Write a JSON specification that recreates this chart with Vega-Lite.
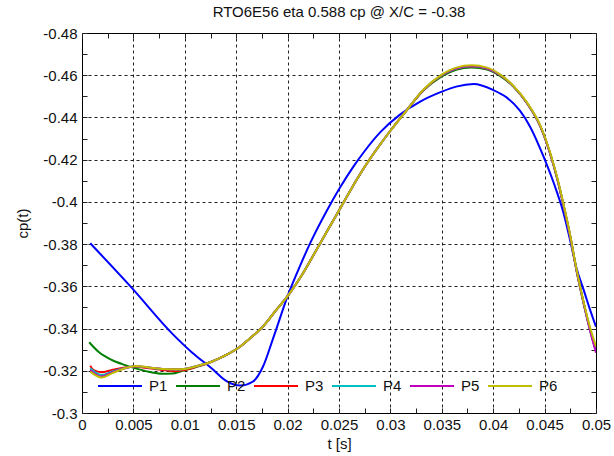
{
  "$schema": "https://vega.github.io/schema/vega-lite/v6.json",
  "width": 514,
  "height": 380,
  "autosize": "none",
  "padding": {"left": 82, "top": 33, "right": 18, "bottom": 43},
  "background": "white",
  "title": {"text": "RTO6E56 eta 0.588 cp @ X/C = -0.38", "fontSize": 15, "font": "Liberation Sans", "fontWeight": "normal", "color": "#111", "offset": 6, "anchor": "middle"},
  "config": {"view": {"stroke": "black", "strokeWidth": 1}, "font": "Liberation Sans"},
  "data": {"values": [
    {"series":"P1","t":0.0008,"cp":-0.3804},{"series":"P1","t":0.0048,"cp":-0.3595},{"series":"P1","t":0.0088,"cp":-0.3375},{"series":"P1","t":0.0107,"cp":-0.3287},{"series":"P1","t":0.0126,"cp":-0.3212},{"series":"P1","t":0.0141,"cp":-0.315},{"series":"P1","t":0.0154,"cp":-0.313},{"series":"P1","t":0.0166,"cp":-0.3148},{"series":"P1","t":0.0176,"cp":-0.3219},{"series":"P1","t":0.0186,"cp":-0.3355},{"series":"P1","t":0.0201,"cp":-0.3567},{"series":"P1","t":0.0212,"cp":-0.3696},{"series":"P1","t":0.0223,"cp":-0.3815},{"series":"P1","t":0.0238,"cp":-0.3957},{"series":"P1","t":0.0251,"cp":-0.4068},{"series":"P1","t":0.0264,"cp":-0.4167},{"series":"P1","t":0.0275,"cp":-0.4241},{"series":"P1","t":0.029,"cp":-0.4329},{"series":"P1","t":0.0309,"cp":-0.4412},{"series":"P1","t":0.0329,"cp":-0.4475},{"series":"P1","t":0.035,"cp":-0.4522},{"series":"P1","t":0.0364,"cp":-0.4546},{"series":"P1","t":0.0381,"cp":-0.4558},{"series":"P1","t":0.04,"cp":-0.453},{"series":"P1","t":0.0413,"cp":-0.4495},{"series":"P1","t":0.0426,"cp":-0.4432},{"series":"P1","t":0.0436,"cp":-0.4355},{"series":"P1","t":0.0449,"cp":-0.4214},{"series":"P1","t":0.0462,"cp":-0.4046},{"series":"P1","t":0.0468,"cp":-0.3955},{"series":"P1","t":0.0475,"cp":-0.3815},{"series":"P1","t":0.0481,"cp":-0.3687},{"series":"P1","t":0.0488,"cp":-0.3583},{"series":"P1","t":0.0494,"cp":-0.3492},{"series":"P1","t":0.05,"cp":-0.3409},

    {"series":"P2","t":0.0007,"cp":-0.3335},{"series":"P2","t":0.0016,"cp":-0.329},{"series":"P2","t":0.0029,"cp":-0.3251},{"series":"P2","t":0.0042,"cp":-0.3227},{"series":"P2","t":0.0052,"cp":-0.3212},{"series":"P2","t":0.0065,"cp":-0.3195},{"series":"P2","t":0.0078,"cp":-0.3186},{"series":"P2","t":0.0088,"cp":-0.3187},{"series":"P2","t":0.0097,"cp":-0.3199},{"series":"P2","t":0.0107,"cp":-0.3212},{"series":"P2","t":0.0126,"cp":-0.3243},{"series":"P2","t":0.0137,"cp":-0.3267},{"series":"P2","t":0.0154,"cp":-0.3315},{"series":"P2","t":0.0163,"cp":-0.3352},{"series":"P2","t":0.0176,"cp":-0.3409},{"series":"P2","t":0.0189,"cp":-0.3488},{"series":"P2","t":0.0202,"cp":-0.3567},{"series":"P2","t":0.0215,"cp":-0.3662},{"series":"P2","t":0.0228,"cp":-0.3772},{"series":"P2","t":0.0241,"cp":-0.3883},{"series":"P2","t":0.0254,"cp":-0.3993},{"series":"P2","t":0.0267,"cp":-0.4104},{"series":"P2","t":0.028,"cp":-0.4203},{"series":"P2","t":0.029,"cp":-0.4272},{"series":"P2","t":0.03,"cp":-0.4337},{"series":"P2","t":0.0316,"cp":-0.4435},{"series":"P2","t":0.0332,"cp":-0.4527},{"series":"P2","t":0.035,"cp":-0.4595},{"series":"P2","t":0.0364,"cp":-0.4626},{"series":"P2","t":0.0379,"cp":-0.4637},{"series":"P2","t":0.0394,"cp":-0.4627},{"series":"P2","t":0.0407,"cp":-0.4596},{"series":"P2","t":0.042,"cp":-0.4544},{"series":"P2","t":0.0433,"cp":-0.4467},{"series":"P2","t":0.0446,"cp":-0.4356},{"series":"P2","t":0.0455,"cp":-0.4235},{"series":"P2","t":0.0462,"cp":-0.4116},{"series":"P2","t":0.0468,"cp":-0.3993},{"series":"P2","t":0.0475,"cp":-0.3835},{"series":"P2","t":0.0481,"cp":-0.3677},{"series":"P2","t":0.0488,"cp":-0.352},{"series":"P2","t":0.0494,"cp":-0.34},{"series":"P2","t":0.05,"cp":-0.33},

    {"series":"P3","t":0.0008,"cp":-0.3224},{"series":"P3","t":0.0011,"cp":-0.3204},{"series":"P3","t":0.0019,"cp":-0.3193},{"series":"P3","t":0.0029,"cp":-0.3204},{"series":"P3","t":0.0042,"cp":-0.3216},{"series":"P3","t":0.0052,"cp":-0.3219},{"series":"P3","t":0.0065,"cp":-0.3212},{"series":"P3","t":0.0078,"cp":-0.3204},{"series":"P3","t":0.0091,"cp":-0.3198},{"series":"P3","t":0.0101,"cp":-0.3205},{"series":"P3","t":0.0113,"cp":-0.3222},{"series":"P3","t":0.0126,"cp":-0.3243},{"series":"P3","t":0.0137,"cp":-0.3267},{"series":"P3","t":0.0154,"cp":-0.3315},{"series":"P3","t":0.0163,"cp":-0.3352},{"series":"P3","t":0.0176,"cp":-0.3409},{"series":"P3","t":0.0189,"cp":-0.3488},{"series":"P3","t":0.0202,"cp":-0.3567},{"series":"P3","t":0.0215,"cp":-0.3662},{"series":"P3","t":0.0228,"cp":-0.3772},{"series":"P3","t":0.0241,"cp":-0.3883},{"series":"P3","t":0.0254,"cp":-0.3993},{"series":"P3","t":0.0267,"cp":-0.4104},{"series":"P3","t":0.028,"cp":-0.4203},{"series":"P3","t":0.029,"cp":-0.4272},{"series":"P3","t":0.03,"cp":-0.4337},{"series":"P3","t":0.0316,"cp":-0.4435},{"series":"P3","t":0.0332,"cp":-0.4529},{"series":"P3","t":0.035,"cp":-0.4599},{"series":"P3","t":0.0364,"cp":-0.4631},{"series":"P3","t":0.0379,"cp":-0.4641},{"series":"P3","t":0.0394,"cp":-0.4631},{"series":"P3","t":0.0407,"cp":-0.46},{"series":"P3","t":0.042,"cp":-0.4546},{"series":"P3","t":0.0433,"cp":-0.4467},{"series":"P3","t":0.0446,"cp":-0.4356},{"series":"P3","t":0.0455,"cp":-0.4235},{"series":"P3","t":0.0462,"cp":-0.4116},{"series":"P3","t":0.0468,"cp":-0.3993},{"series":"P3","t":0.0475,"cp":-0.3835},{"series":"P3","t":0.0481,"cp":-0.3677},{"series":"P3","t":0.0488,"cp":-0.352},{"series":"P3","t":0.0494,"cp":-0.3398},{"series":"P3","t":0.05,"cp":-0.3295},

    {"series":"P4","t":0.0008,"cp":-0.3212},{"series":"P4","t":0.0019,"cp":-0.318},{"series":"P4","t":0.0029,"cp":-0.3196},{"series":"P4","t":0.0042,"cp":-0.3213},{"series":"P4","t":0.0052,"cp":-0.3222},{"series":"P4","t":0.0065,"cp":-0.3215},{"series":"P4","t":0.0078,"cp":-0.3208},{"series":"P4","t":0.0091,"cp":-0.3206},{"series":"P4","t":0.0101,"cp":-0.3210},{"series":"P4","t":0.0113,"cp":-0.3224},{"series":"P4","t":0.0126,"cp":-0.3243},{"series":"P4","t":0.0137,"cp":-0.3267},{"series":"P4","t":0.0154,"cp":-0.3315},{"series":"P4","t":0.0163,"cp":-0.3352},{"series":"P4","t":0.0176,"cp":-0.3409},{"series":"P4","t":0.0189,"cp":-0.3488},{"series":"P4","t":0.0202,"cp":-0.3567},{"series":"P4","t":0.0215,"cp":-0.3662},{"series":"P4","t":0.0228,"cp":-0.3772},{"series":"P4","t":0.0241,"cp":-0.3883},{"series":"P4","t":0.0254,"cp":-0.3993},{"series":"P4","t":0.0267,"cp":-0.4104},{"series":"P4","t":0.028,"cp":-0.4203},{"series":"P4","t":0.029,"cp":-0.4272},{"series":"P4","t":0.03,"cp":-0.4337},{"series":"P4","t":0.0316,"cp":-0.4435},{"series":"P4","t":0.0332,"cp":-0.453},{"series":"P4","t":0.035,"cp":-0.46},{"series":"P4","t":0.0364,"cp":-0.4632},{"series":"P4","t":0.0379,"cp":-0.4643},{"series":"P4","t":0.0394,"cp":-0.4632},{"series":"P4","t":0.0407,"cp":-0.4601},{"series":"P4","t":0.042,"cp":-0.4546},{"series":"P4","t":0.0433,"cp":-0.4467},{"series":"P4","t":0.0446,"cp":-0.4356},{"series":"P4","t":0.0455,"cp":-0.4235},{"series":"P4","t":0.0462,"cp":-0.4116},{"series":"P4","t":0.0468,"cp":-0.3993},{"series":"P4","t":0.0475,"cp":-0.3835},{"series":"P4","t":0.0481,"cp":-0.3677},{"series":"P4","t":0.0488,"cp":-0.352},{"series":"P4","t":0.0494,"cp":-0.3397},{"series":"P4","t":0.05,"cp":-0.3292},

    {"series":"P5","t":0.0008,"cp":-0.3204},{"series":"P5","t":0.0019,"cp":-0.3173},{"series":"P5","t":0.0029,"cp":-0.3192},{"series":"P5","t":0.0042,"cp":-0.3212},{"series":"P5","t":0.0052,"cp":-0.3223},{"series":"P5","t":0.0065,"cp":-0.3215},{"series":"P5","t":0.0078,"cp":-0.3209},{"series":"P5","t":0.0091,"cp":-0.3207},{"series":"P5","t":0.0101,"cp":-0.3210},{"series":"P5","t":0.0113,"cp":-0.3224},{"series":"P5","t":0.0126,"cp":-0.3243},{"series":"P5","t":0.0137,"cp":-0.3267},{"series":"P5","t":0.0154,"cp":-0.3315},{"series":"P5","t":0.0163,"cp":-0.3352},{"series":"P5","t":0.0176,"cp":-0.3409},{"series":"P5","t":0.0189,"cp":-0.3488},{"series":"P5","t":0.0202,"cp":-0.3567},{"series":"P5","t":0.0215,"cp":-0.3662},{"series":"P5","t":0.0228,"cp":-0.3772},{"series":"P5","t":0.0241,"cp":-0.3883},{"series":"P5","t":0.0254,"cp":-0.3993},{"series":"P5","t":0.0267,"cp":-0.4104},{"series":"P5","t":0.028,"cp":-0.4203},{"series":"P5","t":0.029,"cp":-0.4272},{"series":"P5","t":0.03,"cp":-0.4337},{"series":"P5","t":0.0316,"cp":-0.4435},{"series":"P5","t":0.0332,"cp":-0.453},{"series":"P5","t":0.035,"cp":-0.4601},{"series":"P5","t":0.0364,"cp":-0.4633},{"series":"P5","t":0.0379,"cp":-0.4644},{"series":"P5","t":0.0394,"cp":-0.4633},{"series":"P5","t":0.0407,"cp":-0.4601},{"series":"P5","t":0.042,"cp":-0.4546},{"series":"P5","t":0.0433,"cp":-0.4467},{"series":"P5","t":0.0446,"cp":-0.4356},{"series":"P5","t":0.0455,"cp":-0.4235},{"series":"P5","t":0.0462,"cp":-0.4116},{"series":"P5","t":0.0468,"cp":-0.3993},{"series":"P5","t":0.0475,"cp":-0.3835},{"series":"P5","t":0.0481,"cp":-0.3677},{"series":"P5","t":0.0488,"cp":-0.352},{"series":"P5","t":0.0494,"cp":-0.3395},{"series":"P5","t":0.05,"cp":-0.3285},

    {"series":"P6","t":0.0008,"cp":-0.3196},{"series":"P6","t":0.0019,"cp":-0.3168},{"series":"P6","t":0.0029,"cp":-0.3188},{"series":"P6","t":0.0042,"cp":-0.3212},{"series":"P6","t":0.0052,"cp":-0.3223},{"series":"P6","t":0.0065,"cp":-0.3216},{"series":"P6","t":0.0078,"cp":-0.3209},{"series":"P6","t":0.0091,"cp":-0.3207},{"series":"P6","t":0.0101,"cp":-0.3210},{"series":"P6","t":0.0113,"cp":-0.3224},{"series":"P6","t":0.0126,"cp":-0.3243},{"series":"P6","t":0.0137,"cp":-0.3267},{"series":"P6","t":0.0154,"cp":-0.3315},{"series":"P6","t":0.0163,"cp":-0.3352},{"series":"P6","t":0.0176,"cp":-0.3409},{"series":"P6","t":0.0189,"cp":-0.3488},{"series":"P6","t":0.0202,"cp":-0.3567},{"series":"P6","t":0.0215,"cp":-0.3662},{"series":"P6","t":0.0228,"cp":-0.3772},{"series":"P6","t":0.0241,"cp":-0.3883},{"series":"P6","t":0.0254,"cp":-0.3993},{"series":"P6","t":0.0267,"cp":-0.4104},{"series":"P6","t":0.028,"cp":-0.4203},{"series":"P6","t":0.029,"cp":-0.4272},{"series":"P6","t":0.03,"cp":-0.4337},{"series":"P6","t":0.0316,"cp":-0.4435},{"series":"P6","t":0.0332,"cp":-0.4531},{"series":"P6","t":0.035,"cp":-0.4603},{"series":"P6","t":0.0364,"cp":-0.4636},{"series":"P6","t":0.0379,"cp":-0.4647},{"series":"P6","t":0.0394,"cp":-0.4636},{"series":"P6","t":0.0407,"cp":-0.4603},{"series":"P6","t":0.042,"cp":-0.4548},{"series":"P6","t":0.0433,"cp":-0.447},{"series":"P6","t":0.0446,"cp":-0.436},{"series":"P6","t":0.0455,"cp":-0.424},{"series":"P6","t":0.0462,"cp":-0.412},{"series":"P6","t":0.0468,"cp":-0.3998},{"series":"P6","t":0.0475,"cp":-0.384},{"series":"P6","t":0.0481,"cp":-0.3682},{"series":"P6","t":0.0488,"cp":-0.3525},{"series":"P6","t":0.0494,"cp":-0.341},{"series":"P6","t":0.05,"cp":-0.3315}
  ]},
  "layer": [
    {
      "mark": {"type": "line", "strokeWidth": 2, "interpolate": "monotone", "clip": true},
      "encoding": {
        "x": {"field": "t", "type": "quantitative",
          "scale": {"domain": [0, 0.05], "nice": false, "zero": false},
          "axis": {"orient": "bottom",
            "values": [0,0.0025,0.005,0.0075,0.01,0.0125,0.015,0.0175,0.02,0.0225,0.025,0.0275,0.03,0.0325,0.035,0.0375,0.04,0.0425,0.045,0.0475,0.05],
            "labelExpr": "round(datum.value*10000) % 50 == 0 ? '' + datum.value : ''",
            "labelFontSize": 15, "labelColor": "#111", "labelPadding": 9, "labelFlush": false, "labelOverlap": false,
            "tickSize": -5, "tickColor": "#222", "domain": false,
            "grid": true, "gridColor": "#222", "gridDash": [3, 3],
            "gridOpacity": {"condition": {"test": "round(datum.value*10000) % 50 == 0 && datum.value > 0.001 && datum.value < 0.049", "value": 1}, "value": 0},
            "title": "t [s]", "titleFontSize": 15, "titleFontWeight": "normal", "titleColor": "#111", "titlePadding": 4}
        },
        "y": {"field": "cp", "type": "quantitative",
          "scale": {"domain": [-0.48, -0.3], "nice": false, "zero": false, "reverse": true},
          "axis": {"orient": "left",
            "values": [-0.48,-0.47,-0.46,-0.45,-0.44,-0.43,-0.42,-0.41,-0.4,-0.39,-0.38,-0.37,-0.36,-0.35,-0.34,-0.33,-0.32,-0.31,-0.3],
            "labelExpr": "abs(round(datum.value*100)) % 2 == 0 ? '' + datum.value : ''",
            "labelFontSize": 15, "labelColor": "#111", "labelPadding": 10, "labelFlush": false, "labelOverlap": false,
            "tickSize": -5, "tickColor": "#222", "domain": false,
            "grid": true, "gridColor": "#222", "gridDash": [3, 3],
            "gridOpacity": {"condition": {"test": "abs(round(datum.value*100)) % 2 == 0 && datum.value > -0.479 && datum.value < -0.301", "value": 1}, "value": 0},
            "title": "cp(t)", "titleFontSize": 15, "titleFontWeight": "normal", "titleColor": "#111", "titlePadding": 12}
        },
        "color": {"field": "series", "type": "nominal",
          "scale": {"domain": ["P1","P2","P3","P4","P5","P6"], "range": ["#0000ff","#008000","#ff0000","#00bfbf","#bf00bf","#bfbf00"]},
          "legend": {"orient": "none", "legendX": 15, "legendY": 330, "direction": "horizontal", "columns": 6,
            "symbolType": "stroke", "symbolSize": 1936, "symbolStrokeWidth": 2,
            "labelFontSize": 15, "labelColor": "#111", "labelOffset": 6, "columnPadding": 4,
            "title": null, "padding": 0}
        }
      }
    },
    {
      "mark": {"type": "point", "opacity": 0},
      "encoding": {
        "x": {"field": "t", "type": "quantitative",
          "axis": {"orient": "top",
            "values": [0,0.0025,0.005,0.0075,0.01,0.0125,0.015,0.0175,0.02,0.0225,0.025,0.0275,0.03,0.0325,0.035,0.0375,0.04,0.0425,0.045,0.0475,0.05],
            "labels": false, "grid": false, "domain": false, "tickSize": -5, "tickColor": "#222", "title": null}
        },
        "y": {"field": "cp", "type": "quantitative",
          "axis": {"orient": "right",
            "values": [-0.48,-0.47,-0.46,-0.45,-0.44,-0.43,-0.42,-0.41,-0.4,-0.39,-0.38,-0.37,-0.36,-0.35,-0.34,-0.33,-0.32,-0.31,-0.3],
            "labels": false, "grid": false, "domain": false, "tickSize": -5, "tickColor": "#222", "title": null}
        }
      }
    }
  ],
  "resolve": {"axis": {"x": "independent", "y": "independent"}}
}
